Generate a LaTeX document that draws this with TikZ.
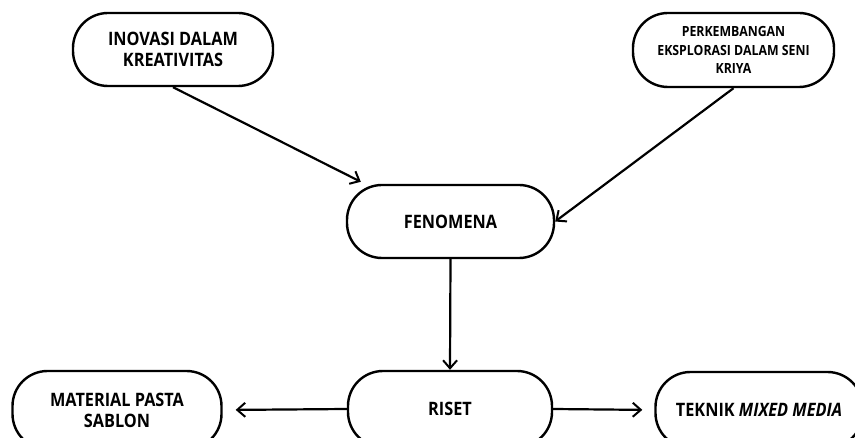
\documentclass[tikz,border=0pt]{standalone}
\usepackage{fontspec}
\setmainfont{Open Sans}[FakeStretch=0.88]
\usetikzlibrary{arrows.meta,calc}
\begin{document}
\begin{tikzpicture}[x=1pt,y=-1pt,
  box/.style={draw=black,line width=2.4pt,rounded corners=35pt,align=center,
    font=\bfseries\fontsize{18.5}{21}\selectfont,inner sep=0pt},
  conn/.style={line width=2.2pt,-{Straight Barb[length=8pt,width=14pt,line width=2pt]}}]
\clip (0,0) rectangle (855,438);
\fill[white] (0,0) rectangle (855,438);
\node[box,minimum width=200pt,minimum height=73pt] (ino) at (173,49.5) {INOVASI DALAM\\KREATIVITAS};
\node[box,minimum width=201pt,minimum height=74pt,font=\bfseries\fontsize{14}{18.5}\selectfont] (per) at (733.5,50) {PERKEMBANGAN\\EKSPLORASI DALAM SENI\\KRIYA};
\node[box,minimum width=207pt,minimum height=73pt] (fen) at (450.5,221.5) {FENOMENA};
\node[box,minimum width=204pt,minimum height=76pt] (riset) at (450,409) {RISET};
\node[box,minimum width=209pt,minimum height=78pt] (mat) at (117,410) {MATERIAL PASTA\\SABLON};
\node[box,minimum width=207pt,minimum height=76pt] (tek) at (759,410) {TEKNIK \textit{MIXED MEDIA}};
\coordinate (fentl) at ($(fen.north west)+(15,-2)$);
\draw[conn] (ino.south) -- (fentl);
\draw[conn] (per.south) -- (fen.east);
\draw[conn] (fen.south) -- (riset.north);
\draw[conn,shorten >=13pt] (riset.west) -- (mat.east);
\draw[conn,shorten >=12pt] (riset.east) -- (tek.west);
\end{tikzpicture}
\end{document}
